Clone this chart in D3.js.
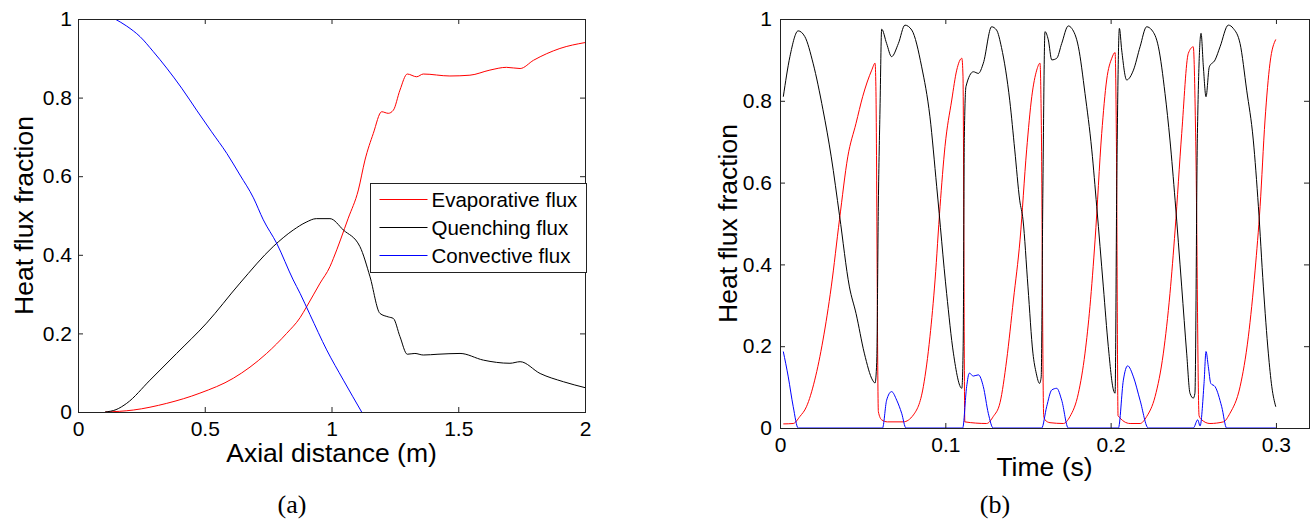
<!DOCTYPE html>
<html>
<head>
<meta charset="utf-8">
<script src="https://cdn.jsdelivr.net/npm/d3@7"></script>
<style>
  html, body { margin: 0; padding: 0; background: #fff; }
  svg { display: block; }
  text { font-family: "Liberation Sans", Arial, sans-serif; fill: #000; }
  .cap { font-family: "Liberation Serif", "Times New Roman", serif; }
</style>
</head>
<body>
<svg id="fig" width="1315" height="525"></svg>
<script>
// ---- (a) heat flux partition along the heated length ----
const evapAxial = [[0.107,0],[0.218,0.005],[0.35,0.022],[0.481,0.048],[0.613,0.086],[0.744,0.149],[0.823,0.2],[0.876,0.24],[0.902,0.268],[0.955,0.328],[0.994,0.37],[1.007,0.39],[1.066,0.493],[1.106,0.565],[1.132,0.641],[1.165,0.709],[1.198,0.764],[1.224,0.76],[1.244,0.768],[1.27,0.819],[1.299,0.86],[1.336,0.853],[1.362,0.86],[1.467,0.855],[1.546,0.857],[1.625,0.87],[1.69,0.877],[1.744,0.874],[1.797,0.895],[1.901,0.925],[2.0,0.94]];
const quenchAxial = [[0.107,0],[0.15,0.006],[0.192,0.022],[0.284,0.081],[0.389,0.149],[0.507,0.226],[0.639,0.328],[0.77,0.421],[0.849,0.463],[0.9,0.483],[0.94,0.492],[0.994,0.492],[1.047,0.463],[1.112,0.421],[1.152,0.344],[1.191,0.251],[1.224,0.242],[1.244,0.238],[1.27,0.192],[1.299,0.147],[1.329,0.149],[1.362,0.145],[1.42,0.147],[1.507,0.149],[1.599,0.132],[1.704,0.124],[1.744,0.128],[1.823,0.098],[1.915,0.077],[2.0,0.062]];
const convAxial = [[0.146,1.0],[0.192,0.982],[0.245,0.955],[0.297,0.917],[0.35,0.875],[0.409,0.824],[0.468,0.768],[0.527,0.713],[0.587,0.658],[0.639,0.603],[0.692,0.545],[0.731,0.489],[0.784,0.429],[0.849,0.336],[0.876,0.302],[0.915,0.248],[0.981,0.158],[1.047,0.081],[1.119,0.0]];

// ---- (b) heat flux partition over time at a wall cell ----
const evapTime = [[0.002,0.01],[0.008,0.011],[0.012,0.028],[0.016,0.052],[0.021,0.117],[0.026,0.215],[0.031,0.345],[0.036,0.51],[0.041,0.663],[0.046,0.745],[0.05,0.81],[0.0555,0.875],[0.0575,0.892],[0.058,0.835],[0.0595,0.04],[0.0615,0.02],[0.065,0.015],[0.0746,0.015],[0.0807,0.032],[0.0867,0.101],[0.0907,0.223],[0.0938,0.362],[0.0968,0.541],[0.0998,0.688],[0.1039,0.802],[0.1069,0.875],[0.11,0.904],[0.1107,0.86],[0.1118,0.015],[0.125,0.011],[0.129,0.028],[0.1331,0.062],[0.1371,0.166],[0.1412,0.313],[0.1452,0.46],[0.1492,0.68],[0.1523,0.81],[0.1553,0.875],[0.1573,0.892],[0.158,0.77],[0.1595,0.03],[0.1603,0.02],[0.1633,0.013],[0.1714,0.011],[0.1754,0.028],[0.1805,0.085],[0.1845,0.183],[0.1875,0.297],[0.1906,0.46],[0.1946,0.72],[0.1976,0.851],[0.2007,0.904],[0.2027,0.918],[0.2035,0.7],[0.2045,0.03],[0.2118,0.011],[0.2178,0.011],[0.2218,0.028],[0.2269,0.077],[0.2319,0.183],[0.2359,0.329],[0.239,0.484],[0.243,0.72],[0.247,0.916],[0.25,0.932],[0.2515,0.7],[0.2535,0.03],[0.2551,0.02],[0.2601,0.011],[0.2682,0.015],[0.2722,0.036],[0.2783,0.101],[0.2833,0.223],[0.2874,0.386],[0.2904,0.541],[0.2934,0.753],[0.2964,0.892],[0.2999,0.95]];
const quenchTime = [[0.002,0.81],[0.006,0.908],[0.011,0.971],[0.015,0.957],[0.02,0.892],[0.026,0.778],[0.031,0.663],[0.036,0.52],[0.042,0.345],[0.046,0.28],[0.051,0.183],[0.056,0.117],[0.0575,0.11],[0.0585,0.16],[0.0595,0.55],[0.0605,0.78],[0.0615,0.975],[0.0645,0.94],[0.0675,0.908],[0.0716,0.94],[0.0756,0.985],[0.0797,0.973],[0.0857,0.883],[0.0907,0.761],[0.0948,0.59],[0.1008,0.329],[0.1049,0.183],[0.11,0.097],[0.1108,0.2],[0.1115,0.71],[0.1125,0.835],[0.117,0.871],[0.12,0.867],[0.123,0.892],[0.128,0.981],[0.131,0.973],[0.134,0.93],[0.139,0.8],[0.142,0.68],[0.145,0.557],[0.147,0.509],[0.15,0.345],[0.153,0.183],[0.155,0.134],[0.157,0.109],[0.158,0.125],[0.159,0.574],[0.1603,0.969],[0.1623,0.949],[0.1644,0.9],[0.1674,0.904],[0.1704,0.94],[0.1744,0.983],[0.1765,0.977],[0.1805,0.932],[0.1845,0.818],[0.1886,0.68],[0.1916,0.541],[0.1956,0.345],[0.1986,0.199],[0.2017,0.093],[0.2027,0.085],[0.2037,0.59],[0.2053,0.977],[0.2067,0.924],[0.2097,0.851],[0.2138,0.875],[0.2178,0.932],[0.2218,0.981],[0.2249,0.973],[0.2289,0.932],[0.2329,0.818],[0.2359,0.704],[0.239,0.557],[0.243,0.345],[0.246,0.183],[0.248,0.085],[0.25,0.073],[0.251,0.085],[0.2525,0.72],[0.2547,0.965],[0.2561,0.883],[0.2577,0.81],[0.2597,0.883],[0.2632,0.9],[0.2662,0.932],[0.2712,0.985],[0.2742,0.977],[0.2783,0.94],[0.2823,0.826],[0.2863,0.704],[0.2894,0.541],[0.2924,0.345],[0.2954,0.183],[0.2975,0.101],[0.2999,0.052]];
const convTime = [[0.002,0.187],[0.005,0.125],[0.008,0.052],[0.011,0],[0.062,0],[0.0645,0.068],[0.0675,0.089],[0.0706,0.068],[0.0736,0.036],[0.0762,0],[0.1105,0],[0.1129,0.101],[0.1145,0.134],[0.117,0.127],[0.12,0.13],[0.123,0.101],[0.126,0.036],[0.129,0],[0.1583,0],[0.1613,0.052],[0.1644,0.093],[0.1674,0.097],[0.1704,0.068],[0.1744,0],[0.2047,0],[0.2077,0.117],[0.2103,0.152],[0.2138,0.125],[0.2178,0.068],[0.2228,0],[0.25,0],[0.2527,0.02],[0.2541,0.005],[0.2565,0.109],[0.2577,0.187],[0.2591,0.15],[0.2606,0.109],[0.2632,0.101],[0.2672,0.052],[0.2702,0],[0.3,0]];

// ---- axis ticks and labels ----
const axialTicks = [0, 0.5, 1, 1.5, 2];
const timeTicks = [0, 0.1, 0.2, 0.3];
const fractionTicks = [0, 0.2, 0.4, 0.6, 0.8, 1];
const seriesNames = ["Evaporative flux", "Quenching flux", "Convective flux"];
const seriesColors = ["#ff0000", "#000000", "#0000ff"];

const svg = d3.select("#fig");

function fmt(v) { return d3.format("~g")(v); }

function drawPanel(opts) {
  const { x, y, xTicks, series, xLabel, xLabelY, yLabelX, caption, captionX, yPad, id } = opts;
  const [x0, x1] = x.range();
  const [y0, y1] = y.range();
  const g = svg.append("g");

  g.append("clipPath").attr("id", id)
    .append("rect").attr("x", x0).attr("y", y1).attr("width", x1 - x0).attr("height", y0 - y1);

  const line = d3.line().curve(d3.curveMonotoneX).x(d => x(d[0])).y(d => y(d[1]));
  const lines = g.append("g").attr("clip-path", `url(#${id})`);
  series.forEach((s, i) => {
    lines.append("path")
      .datum(s)
      .attr("fill", "none")
      .attr("stroke", seriesColors[i])
      .attr("stroke-width", 1)
      .attr("stroke-linejoin", "round")
      .attr("d", line);
  });

  // inward ticks on all four sides (box style)
  const bottom = g.append("g").attr("transform", `translate(0,${y0})`)
    .call(d3.axisBottom(x).tickValues(xTicks).tickSize(-5).tickSizeOuter(0).tickPadding(9).tickFormat(fmt));
  const top = g.append("g").attr("transform", `translate(0,${y1})`)
    .call(d3.axisTop(x).tickValues(xTicks).tickSize(-5).tickSizeOuter(0).tickFormat(""));
  const left = g.append("g").attr("transform", `translate(${x0},0)`)
    .call(d3.axisLeft(y).tickValues(fractionTicks).tickSize(-5).tickSizeOuter(0).tickPadding(yPad).tickFormat(fmt));
  const right = g.append("g").attr("transform", `translate(${x1},0)`)
    .call(d3.axisRight(y).tickValues(fractionTicks).tickSize(-5).tickSizeOuter(0).tickFormat(""));
  [bottom, top, left, right].forEach(a => {
    a.select(".domain").remove();
    a.selectAll(".tick line").attr("stroke", "#222");
    a.selectAll("text").attr("font-family", "Liberation Sans, Arial, sans-serif")
      .attr("font-size", 21).attr("fill", "#000");
  });

  g.append("rect")
    .attr("x", x0 + 0.5).attr("y", y1 + 0.5)
    .attr("width", x1 - x0).attr("height", y0 - y1)
    .attr("fill", "none").attr("stroke", "#222").attr("stroke-width", 1);

  g.append("text")
    .attr("x", (x0 + x1) / 2).attr("y", xLabelY)
    .attr("text-anchor", "middle").attr("font-size", 26.5)
    .text(xLabel);

  g.append("text")
    .attr("transform", `translate(${yLabelX},${(y0 + y1) / 2}) rotate(-90)`)
    .attr("text-anchor", "middle").attr("font-size", 26.5)
    .text("Heat flux fraction");

  g.append("text").attr("class", "cap")
    .attr("x", captionX).attr("y", 513)
    .attr("text-anchor", "middle").attr("font-size", 26)
    .text(caption);
  return g;
}

// panel (a)
const xA = d3.scaleLinear().domain([0, 2]).range([78, 585]);
const yA = d3.scaleLinear().domain([0, 1]).range([412, 19]);
drawPanel({
  id: "clipA", x: xA, y: yA, xTicks: axialTicks,
  series: [evapAxial, quenchAxial, convAxial],
  xLabel: "Axial distance (m)", xLabelY: 462, yLabelX: 33,
  caption: "(a)", captionX: 292, yPad: 6
});

// legend for panel (a)
const leg = svg.append("g").attr("transform", "translate(370.5,183.5)");
leg.append("rect").attr("width", 216).attr("height", 89)
  .attr("fill", "#fff").attr("stroke", "#222").attr("stroke-width", 1);
seriesNames.forEach((name, i) => {
  const yy = 16 + i * 28;
  leg.append("line").attr("x1", 9).attr("x2", 57).attr("y1", yy).attr("y2", yy)
    .attr("stroke", seriesColors[i]).attr("stroke-width", 1.2);
  leg.append("text").attr("x", 61).attr("y", yy).attr("dy", "0.35em")
    .attr("font-size", 20.5).text(name);
});

// panel (b)
const xB = d3.scaleLinear().domain([0, 0.32]).range([780, 1309]);
const yB = d3.scaleLinear().domain([0, 1]).range([428, 19]);
drawPanel({
  id: "clipB", x: xB, y: yB, xTicks: timeTicks,
  series: [evapTime, quenchTime, convTime],
  xLabel: "Time (s)", xLabelY: 476, yLabelX: 737,
  caption: "(b)", captionX: 995, yPad: 8
});
</script>
</body>
</html>
